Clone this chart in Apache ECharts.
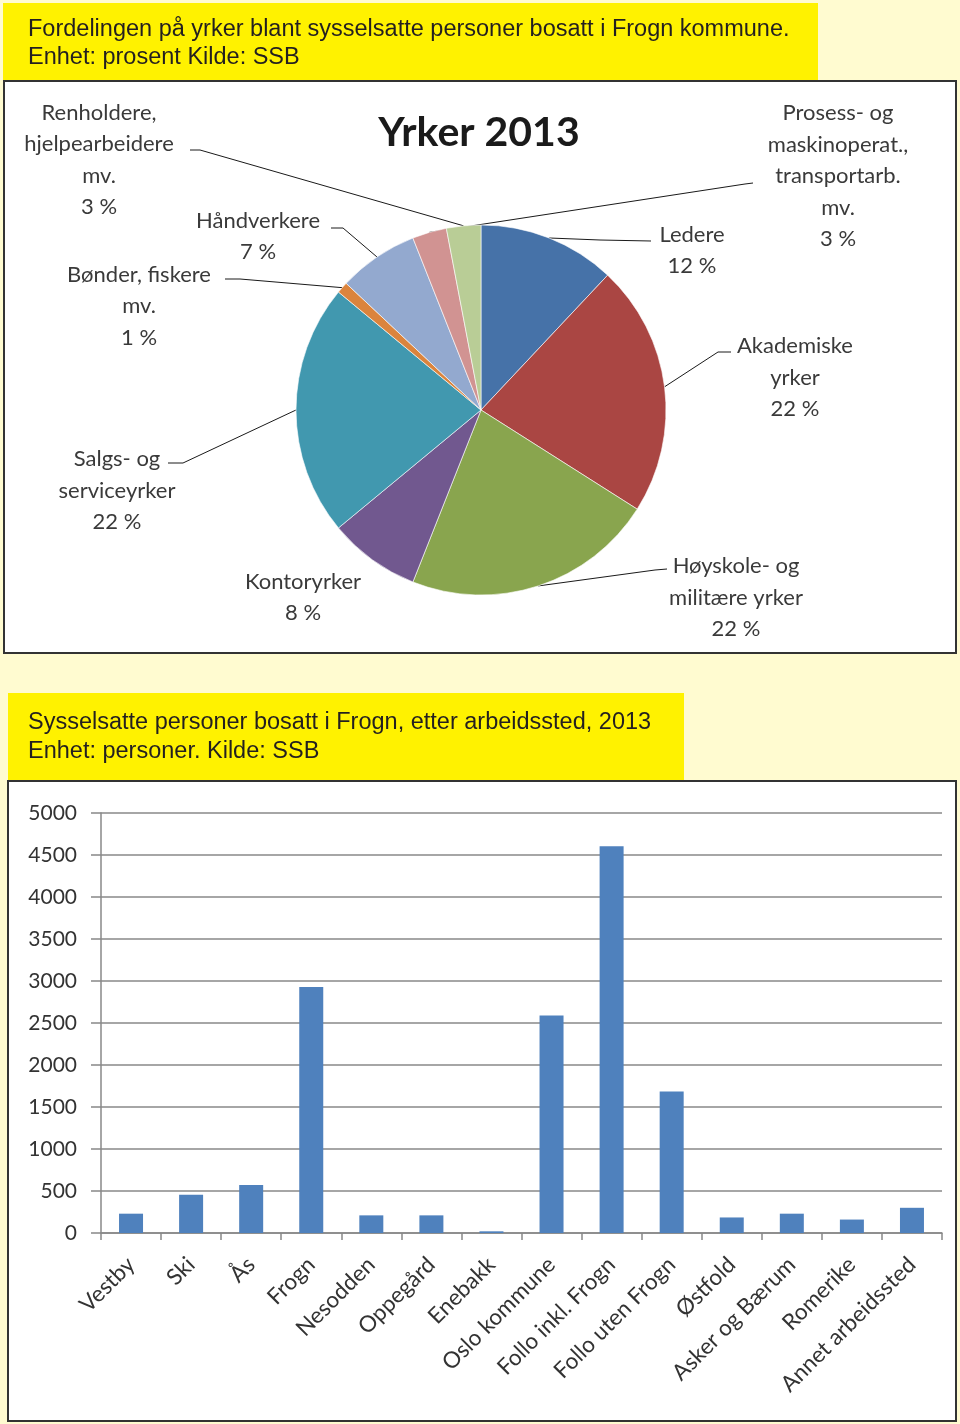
<!DOCTYPE html>
<html>
<head>
<meta charset="utf-8">
<script src="https://cdn.jsdelivr.net/npm/echarts@6/dist/echarts.min.js"></script>
<style>
  html, body { margin: 0; padding: 0; background: #FFFBD0; }
  #chart { width: 960px; height: 1424px; }
</style>
</head>
<body>
<div id="chart"></div>
<script>
// ---- Data: pie (Yrker 2013, percent) ----
const occupations = [
  'Ledere',
  'Akademiske\nyrker',
  'Høyskole- og\nmilitære yrker',
  'Kontoryrker',
  'Salgs- og\nserviceyrker',
  'Bønder, fiskere\nmv.',
  'Håndverkere',
  'Prosess- og\nmaskinoperat.,\ntransportarb.\nmv.',
  'Renholdere,\nhjelpearbeidere\nmv.'
];
const occupationShares = [12, 22, 22, 8, 22, 1, 7, 3, 3];
const occupationColors = ['#4672A8', '#AA4643', '#89A54E', '#71588F', '#4198AF', '#DB843D', '#93A9CF', '#D19392', '#B9CD96'];

// ---- Data: bars (persons by workplace, 2013) ----
const workplaces = ['Vestby', 'Ski', 'Ås', 'Frogn', 'Nesodden', 'Oppegård', 'Enebakk', 'Oslo kommune',
  'Follo inkl. Frogn', 'Follo uten Frogn', 'Østfold', 'Asker og Bærum', 'Romerike', 'Annet arbeidssted'];
const persons = [230, 455, 570, 2930, 210, 210, 20, 2590, 4605, 1685, 185, 230, 160, 300];
const yTicks = { min: 0, max: 5000, interval: 500 };

// ---- Layout of pie labels (text block centres and leader-line bends) ----
const labelPos = [
  [692, 250.5], [795, 377.5], [736, 597.5], [303, 597.5], [117, 490.5],
  [139, 306], [258, 236.5], [838, 176], [99, 160]
];
const leader = [
  [[600, 240], [651, 241]],
  [[718, 352], [731, 352]],
  [[655, 570], [667, 569]],
  null,
  [[183, 463], [168, 463]],
  [[240, 279], [225, 279]],
  [[343, 228], [331, 228]],
  [[745, 184], [753, 183]],
  [[200, 150], [190, 150]]
];

const chart = echarts.init(document.getElementById('chart'), null, { renderer: 'canvas' });

const headerFont = { fontFamily: '"Liberation Sans", Arial, sans-serif', fontSize: 23.5, fontWeight: 'normal', color: '#231f20' };
const labelFont = 'Lato, "Open Sans", sans-serif';

chart.setOption({
  backgroundColor: '#FFFBD0',
  animation: false,
  title: [
    {
      text: 'Fordelingen på yrker blant sysselsatte personer bosatt i Frogn kommune.\nEnhet: prosent Kilde: SSB',
      left: 28, top: 16, padding: 0,
      textStyle: Object.assign({ lineHeight: 28 }, headerFont)
    },
    {
      text: 'Sysselsatte personer bosatt i Frogn, etter arbeidssted, 2013\nEnhet: personer. Kilde: SSB',
      left: 28, top: 708, padding: 0,
      textStyle: Object.assign({ lineHeight: 29 }, headerFont)
    }
  ],
  graphic: [
    { type: 'rect', z: -10, silent: true, shape: { x: 3, y: 3, width: 815, height: 77 }, style: { fill: '#FFF200' } },
    { type: 'rect', z: -10, silent: true, shape: { x: 4, y: 81, width: 952, height: 572 }, style: { fill: '#ffffff', stroke: '#333333', lineWidth: 2 } },
    { type: 'rect', z: -10, silent: true, shape: { x: 8, y: 693, width: 676, height: 88 }, style: { fill: '#FFF200' } },
    { type: 'rect', z: -10, silent: true, shape: { x: 8, y: 781, width: 948, height: 640 }, style: { fill: '#ffffff', stroke: '#333333', lineWidth: 2 } },
    { type: 'text', z: 5, x: 479, y: 133, style: { text: 'Yrker 2013', fill: '#1a1a1a', font: 'bold 41px Lato, sans-serif', textAlign: 'center', textVerticalAlign: 'middle' } }
  ],
  series: [
    {
      type: 'pie',
      center: [481, 410],
      radius: 185,
      startAngle: 90,
      clockwise: true,
      avoidLabelOverlap: false,
      itemStyle: { borderColor: '#ffffff', borderWidth: 0.6 },
      label: {
        show: true,
        position: 'outside',
        formatter: '{b}\n{c} %',
        fontFamily: labelFont,
        fontSize: 22,
        lineHeight: 31.5,
        color: '#3a3a3a',
        align: 'center'
      },
      labelLine: { show: true, lineStyle: { color: '#1a1a1a', width: 1 } },
      labelLayout: function (params) {
        const i = params.dataIndex;
        const out = { x: labelPos[i][0], y: labelPos[i][1], align: 'center', verticalAlign: 'middle' };
        if (leader[i] && params.labelLinePoints) {
          out.labelLinePoints = [params.labelLinePoints[0], leader[i][0], leader[i][1]];
        }
        return out;
      },
      data: occupations.map((n, i) => ({
        name: n,
        value: occupationShares[i],
        itemStyle: { color: occupationColors[i] },
        labelLine: { show: leader[i] !== null }
      }))
    },
    {
      type: 'bar',
      xAxisIndex: 0, yAxisIndex: 0,
      data: persons,
      barWidth: 24,
      itemStyle: { color: '#4F81BD' }
    }
  ],
  grid: { left: 101, right: 18, top: 813, bottom: 191, containLabel: false },
  xAxis: {
    type: 'category',
    data: workplaces,
    axisLine: { lineStyle: { color: '#888888', width: 1.5 } },
    axisTick: { show: true, length: 7, lineStyle: { color: '#888888', width: 1.5 } },
    axisLabel: { interval: 0, rotate: 45, margin: 28, fontFamily: labelFont, fontSize: 22.5, color: '#333333' }
  },
  yAxis: {
    type: 'value',
    min: yTicks.min, max: yTicks.max, interval: yTicks.interval,
    axisLine: { show: true, lineStyle: { color: '#888888', width: 1.5 } },
    axisTick: { show: true, length: 10, lineStyle: { color: '#888888', width: 1.5 } },
    splitLine: { show: true, lineStyle: { color: '#888888', width: 1.5 } },
    axisLabel: { margin: 24, fontFamily: labelFont, fontSize: 21, color: '#333333', formatter: function (v) { return String(v); } }
  }
});
</script>
</body>
</html>
